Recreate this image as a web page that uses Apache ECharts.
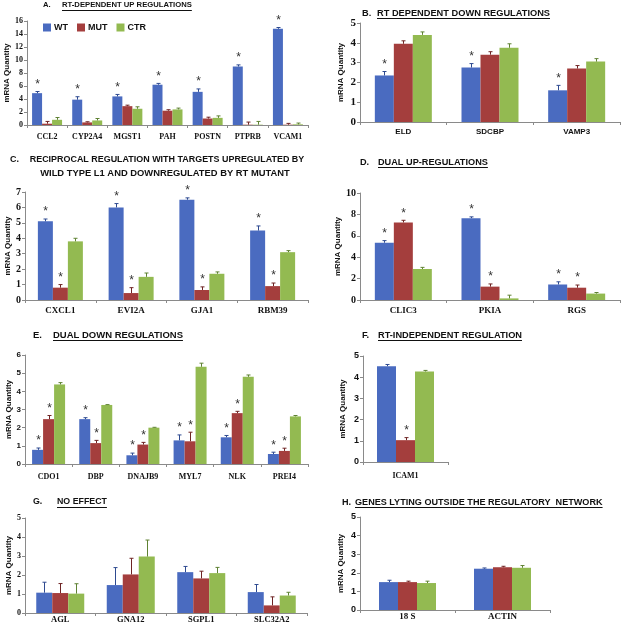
<!DOCTYPE html>
<html><head><meta charset="utf-8">
<script src="https://cdn.jsdelivr.net/npm/echarts@6/dist/echarts.min.js"></script>
<style>html,body{margin:0;padding:0;background:#fff}#c{width:622px;height:626px}</style>
</head><body><div id="c"></div><script>
// ---------- DATA ----------
const seriesNames = ['WT', 'MUT', 'CTR'];

const catsA = ['CCL2', 'CYP2A4', 'MGST1', 'PAH', 'POSTN', 'PTPRB', 'VCAM1'];
const wtA = [4.9, 3.9, 4.4, 6.2, 5.1, 9.0, 14.8];
const mutA = [0.2, 0.4, 2.9, 2.2, 1.0, 0.05, 0.05];
const ctrA = [0.8, 0.7, 2.5, 2.4, 1.1, 0.05, 0.1];
const wtErrA = [0.25, 0.45, 0.3, 0.2, 0.45, 0.25, 0.2];
const mutErrA = [0.35, 0.1, 0.15, 0.15, 0.2, 0.4, 0.2];
const ctrErrA = [0.35, 0.3, 0.3, 0.2, 0.3, 0.5, 0.2];
const wtSigA = [1, 1, 1, 1, 1, 1, 1];
const mutSigA = [0, 0, 0, 0, 0, 0, 0];
const ctrSigA = [0, 0, 0, 0, 0, 0, 0];

const catsB = ['ELD', 'SDCBP', 'VAMP3'];
const wtB = [2.35, 2.75, 1.6];
const mutB = [3.95, 3.4, 2.7];
const ctrB = [4.4, 3.75, 3.05];
const wtErrB = [0.2, 0.2, 0.25];
const mutErrB = [0.15, 0.15, 0.15];
const ctrErrB = [0.15, 0.2, 0.15];
const wtSigB = [1, 1, 1];
const mutSigB = [0, 0, 0];
const ctrSigB = [0, 0, 0];

const catsC = ['CXCL1', 'EVI2A', 'GJA1', 'RBM39'];
const wtC = [5.1, 6.0, 6.5, 4.5];
const mutC = [0.8, 0.45, 0.65, 0.9];
const ctrC = [3.8, 1.5, 1.7, 3.1];
const wtErrC = [0.15, 0.25, 0.12, 0.3];
const mutErrC = [0.2, 0.35, 0.2, 0.2];
const ctrErrC = [0.2, 0.25, 0.12, 0.1];
const wtSigC = [1, 1, 1, 1];
const mutSigC = [1, 1, 1, 1];
const ctrSigC = [0, 0, 0, 0];

const catsD = ['CLIC3', 'PKIA', 'RGS'];
const wtD = [5.35, 7.65, 1.45];
const mutD = [7.25, 1.25, 1.15];
const ctrD = [2.9, 0.15, 0.6];
const wtErrD = [0.2, 0.12, 0.25];
const mutErrD = [0.2, 0.25, 0.25];
const ctrErrD = [0.15, 0.3, 0.1];
const wtSigD = [1, 1, 1];
const mutSigD = [1, 1, 1];
const ctrSigD = [0, 0, 0];

const catsE = ['CDO1', 'DBP', 'DNAJB9', 'MYL7', 'NLK', 'PREI4'];
const wtE = [0.78, 2.47, 0.48, 1.3, 1.47, 0.55];
const mutE = [2.47, 1.15, 1.07, 1.25, 2.8, 0.72];
const ctrE = [4.38, 3.25, 2.0, 5.35, 4.8, 2.62];
const wtErrE = [0.1, 0.08, 0.12, 0.3, 0.1, 0.1];
const mutErrE = [0.2, 0.15, 0.12, 0.5, 0.1, 0.15];
const ctrErrE = [0.1, 0.02, 0.02, 0.2, 0.1, 0.05];
const wtSigE = [1, 1, 1, 1, 1, 1];
const mutSigE = [1, 1, 1, 1, 1, 1];
const ctrSigE = [0, 0, 0, 0, 0, 0];

const catsF = ['ICAM1'];
const wtF = [4.52];
const mutF = [1.03];
const ctrF = [4.27];
const wtErrF = [0.08];
const mutErrF = [0.12];
const ctrErrF = [0.05];
const wtSigF = [0];
const mutSigF = [1];
const ctrSigF = [0];

const catsG = ['AGL', 'GNA12', 'SGPL1', 'SLC32A2'];
const wtG = [1.07, 1.47, 2.15, 1.1];
const mutG = [1.05, 2.03, 1.82, 0.4];
const ctrG = [1.02, 2.97, 2.1, 0.92];
const wtErrG = [0.55, 0.92, 0.3, 0.4];
const mutErrG = [0.5, 0.85, 0.38, 0.45];
const ctrErrG = [0.52, 0.87, 0.3, 0.17];
const wtSigG = [0, 0, 0, 0];
const mutSigG = [0, 0, 0, 0];
const ctrSigG = [0, 0, 0, 0];

const catsH = ['18 S', 'ACTIN'];
const wtH = [1.5, 2.22];
const mutH = [1.5, 2.3];
const ctrH = [1.45, 2.27];
const wtErrH = [0.1, 0.04];
const mutErrH = [0.05, 0.05];
const ctrErrH = [0.1, 0.12];
const wtSigH = [0, 0];
const mutSigH = [0, 0];
const ctrSigH = [0, 0];

const yTitle = 'mRNA Quantity';

// ---------- STYLE / LAYOUT ----------
const barColors = ['#4A6BC0', '#A43E3D', '#93BA51'];
const errColors = ['#2E4A90', '#6E2424', '#5F8233'];
const SERIF = 'Liberation Serif';
const SANS = 'Liberation Sans';

const panels = [
  { cats: catsA, vals: [wtA, mutA, ctrA], errs: [wtErrA, mutErrA, ctrErrA], sigs: [wtSigA, mutSigA, ctrSigA],
    grid: { left: 27, top: 21, width: 281, height: 104 }, max: 16, interval: 2, bw: 10,
    yFont: [SERIF, 8], xFont: [SERIF, 8], xMargin: 8, nameGap: 12 },
  { cats: catsB, vals: [wtB, mutB, ctrB], errs: [wtErrB, mutErrB, ctrErrB], sigs: [wtSigB, mutSigB, ctrSigB],
    grid: { left: 360, top: 23, width: 260, height: 99 }, max: 5, interval: 1, bw: 19,
    yFont: [SERIF, 11], xFont: [SANS, 8], xMargin: 6, nameGap: 15 },
  { cats: catsC, vals: [wtC, mutC, ctrC], errs: [wtErrC, mutErrC, ctrErrC], sigs: [wtSigC, mutSigC, ctrSigC],
    grid: { left: 25, top: 192, width: 283, height: 108 }, max: 7, interval: 1, bw: 15,
    yFont: [SERIF, 10], xFont: [SERIF, 9], xMargin: 6, nameGap: 12 },
  { cats: catsD, vals: [wtD, mutD, ctrD], errs: [wtErrD, mutErrD, ctrErrD], sigs: [wtSigD, mutSigD, ctrSigD],
    grid: { left: 360, top: 193, width: 260, height: 107 }, max: 10, interval: 2, bw: 19,
    yFont: [SERIF, 10], xFont: [SERIF, 9], xMargin: 6, nameGap: 16 },
  { cats: catsE, vals: [wtE, mutE, ctrE], errs: [wtErrE, mutErrE, ctrErrE], sigs: [wtSigE, mutSigE, ctrSigE],
    grid: { left: 25, top: 355, width: 283, height: 109 }, max: 6, interval: 1, bw: 11,
    yFont: [SANS, 8], xFont: [SERIF, 8], xMargin: 9, nameGap: 12 },
  { cats: catsF, vals: [wtF, mutF, ctrF], errs: [wtErrF, mutErrF, ctrErrF], sigs: [wtSigF, mutSigF, ctrSigF],
    grid: { left: 363, top: 356, width: 85, height: 106 }, max: 5, interval: 1, bw: 19,
    yFont: [SANS, 9], xFont: [SERIF, 8], xMargin: 10, nameGap: 16 },
  { cats: catsG, vals: [wtG, mutG, ctrG], errs: [wtErrG, mutErrG, ctrErrG], sigs: [wtSigG, mutSigG, ctrSigG],
    grid: { left: 25, top: 518, width: 282, height: 95 }, max: 5, interval: 1, bw: 16,
    yFont: [SERIF, 8], xFont: [SERIF, 8.5], xMargin: 2, nameGap: 12 },
  { cats: catsH, vals: [wtH, mutH, ctrH], errs: [wtErrH, mutErrH, ctrErrH], sigs: [wtSigH, mutSigH, ctrSigH],
    grid: { left: 360, top: 517, width: 190, height: 93 }, max: 5, interval: 1, bw: 19,
    yFont: [SANS, 9], xFont: [SERIF, 9], xMargin: 2, nameGap: 15 }
];

// titles: [letter, letterX, text, textX, yCenter, targetWidth, underline]
const titles = [
  ['A.', 43, 'RT-DEPENDENT UP REGULATIONS', 62, 5, 130, true],
  ['B.', 362, 'RT DEPENDENT DOWN REGULATIONS', 377, 13, 173, true],
  ['D.', 360, 'DUAL UP-REGULATIONS', 378, 162, 110, true],
  ['E.', 33, 'DUAL DOWN REGULATIONS', 53, 335, 130, true],
  ['F.', 362, 'RT-INDEPENDENT REGULATION', 378, 335, 144, true],
  ['G.', 33, 'NO EFFECT', 57, 502, 50, true],
  ['H.', 342, 'GENES LYTING OUTSIDE THE REGULATORY  NETWORK', 355, 502, 248, true]
];
const titleC1 = ['C.', 10, 'RECIPROCAL REGULATION WITH TARGETS UPREGULATED BY', 167, 160, 275];
const titleC2 = ['WILD TYPE L1 AND DOWNREGULATED BY RT MUTANT', 165, 173, 250];

const measure = (() => {
  const ctx = document.createElement('canvas').getContext('2d');
  return (t, f) => { ctx.font = f; return ctx.measureText(t).width; };
})();
const fontFor = (size) => 'bold ' + size.toFixed(2) + 'px "Liberation Sans"';
const fitSize = (text, target) => {
  const s = 10 * target / measure(text, fontFor(10));
  return Math.max(7, Math.min(10.5, s));
};

function errRender(k, bw) {
  return function (params, api) {
    const ci = api.value(0), v = api.value(1), e = api.value(2), s = api.value(3);
    const base = api.coord([ci, v]);
    const top = api.coord([ci, v + e]);
    const cx = Math.round(base[0] + (k - 1) * bw) + 0.5;
    const ch = [];
    if (e > 0) {
      ch.push({ type: 'line', shape: { x1: cx, y1: base[1], x2: cx, y2: top[1] }, style: { stroke: errColors[k], lineWidth: 1 } });
      ch.push({ type: 'line', shape: { x1: cx - 2, y1: top[1], x2: cx + 2, y2: top[1] }, style: { stroke: errColors[k], lineWidth: 1 } });
    }
    if (s) {
      ch.push({ type: 'text', style: { text: '*', x: cx, y: top[1] - 1, align: 'center', verticalAlign: 'bottom', fontSize: 12, fontFamily: SANS, fill: '#333' } });
    }
    return { type: 'group', children: ch };
  };
}

const grids = [], xAxes = [], yAxes = [], series = [], graphics = [];
panels.forEach((p, i) => {
  grids.push(Object.assign({ containLabel: false }, p.grid));
  xAxes.push({
    type: 'category', gridIndex: i, data: p.cats,
    axisLine: { lineStyle: { color: '#8a8a8a', width: 1 } },
    axisTick: { show: true, length: 3, lineStyle: { color: '#8a8a8a' } },
    axisLabel: { margin: p.xMargin, fontFamily: p.xFont[0], fontSize: p.xFont[1], fontWeight: 'bold', color: '#111', interval: 0 }
  });
  yAxes.push({
    type: 'value', gridIndex: i, min: 0, max: p.max, interval: p.interval,
    name: yTitle, nameLocation: 'middle', nameRotate: 90, nameGap: p.nameGap,
    nameTextStyle: { fontFamily: SANS, fontSize: 8, fontWeight: 'bold', color: '#111' },
    axisLine: { show: true, lineStyle: { color: '#8a8a8a', width: 1 } },
    axisTick: { show: true, length: 3, lineStyle: { color: '#8a8a8a' } },
    splitLine: { show: false },
    axisLabel: { margin: 4, fontFamily: p.yFont[0], fontSize: p.yFont[1], fontWeight: 'bold', color: '#111' }
  });
  seriesNames.forEach((nm, k) => {
    series.push({
      name: nm, type: 'bar', xAxisIndex: i, yAxisIndex: i, data: p.vals[k],
      barWidth: p.bw, barGap: '0%', itemStyle: { color: barColors[k] }, silent: true
    });
  });
  seriesNames.forEach((nm, k) => {
    series.push({
      type: 'custom', xAxisIndex: i, yAxisIndex: i, silent: true, z: 5,
      renderItem: errRender(k, p.bw),
      data: p.cats.map((c, j) => [j, p.vals[k][j], p.errs[k][j], p.sigs[k][j]])
    });
  });
});

titles.forEach(t => {
  const f = fontFor(fitSize(t[2], t[5]));
  graphics.push({ type: 'text', x: t[1], y: t[4], style: { text: t[0], font: f, fill: '#111', verticalAlign: 'middle' } });
  graphics.push({ type: 'text', x: t[3], y: t[4], style: { text: t[2], font: f, fill: '#111', verticalAlign: 'middle' } });
  if (t[6]) {
    const w = measure(t[2], f);
    graphics.push({ type: 'line', shape: { x1: t[3], y1: t[4] + 5.5, x2: t[3] + w, y2: t[4] + 5.5 }, style: { stroke: '#111', lineWidth: 1 } });
  }
});
const fC1 = fontFor(fitSize(titleC1[2], titleC1[5]));
const fC2 = fontFor(fitSize(titleC2[0], titleC2[3]));
graphics.push({ type: 'text', x: titleC1[1], y: titleC1[4], style: { text: titleC1[0], font: fC1, fill: '#111', verticalAlign: 'middle' } });
graphics.push({ type: 'text', x: titleC1[3], y: titleC1[4], style: { text: titleC1[2], font: fC1, fill: '#111', align: 'center', verticalAlign: 'middle' } });
graphics.push({ type: 'text', x: titleC2[1], y: titleC2[2], style: { text: titleC2[0], font: fC2, fill: '#111', align: 'center', verticalAlign: 'middle' } });

const chart = echarts.init(document.getElementById('c'), null, { renderer: 'canvas' });
chart.setOption({
  animation: false,
  backgroundColor: '#fff',
  legend: {
    data: seriesNames, left: 38, top: 18, orient: 'horizontal',
    itemWidth: 8, itemHeight: 8, itemGap: 9,
    icon: 'rect',
    textStyle: { fontFamily: SANS, fontSize: 9, fontWeight: 'bold', color: '#111', padding: [0, 0, 0, -2] }
  },
  grid: grids, xAxis: xAxes, yAxis: yAxes, series: series,
  graphic: graphics
});
</script></body></html>
